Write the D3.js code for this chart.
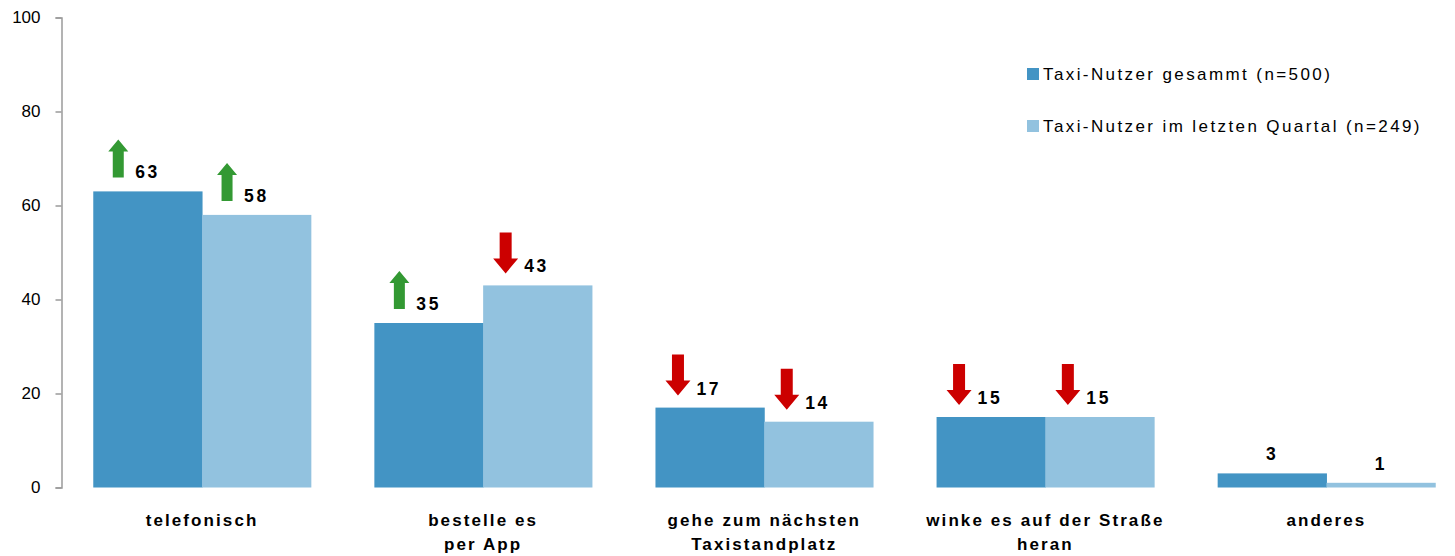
<!DOCTYPE html>
<html>
<head>
<meta charset="utf-8">
<script src="https://cdnjs.cloudflare.com/ajax/libs/d3/7.8.5/d3.min.js"></script>
<style>
  body { margin: 0; background: #fff; }
  svg text { font-family: "Liberation Sans", Arial, sans-serif; fill: #000; }
  .tick text { font-size: 17px; }
  .cat { font-size: 17px; font-weight: bold; letter-spacing: 2.1px; }
  .val { font-size: 17.5px; font-weight: bold; letter-spacing: 2.6px; }
  .leg { font-size: 17px; letter-spacing: 2.4px; }
</style>
</head>
<body>
<div class="chart"></div>
<script>
// data
var categories = [
  ["telefonisch"],
  ["bestelle es", "per App"],
  ["gehe zum nächsten", "Taxistandplatz"],
  ["winke es auf der Straße", "heran"],
  ["anderes"]
];
var seriesNames = ["Taxi-Nutzer gesammt (n=500)", "Taxi-Nutzer im letzten Quartal (n=249)"];
var gesamt = [63, 35, 17, 15, 3];
var quartal = [58, 43, 14, 15, 1];
// trend arrows shown next to each value ("up", "down" or none)
var trendGesamt = ["up", "up", "down", "down", null];
var trendQuartal = ["up", "down", "down", "down", null];
var yTicks = [0, 20, 40, 60, 80, 100];

var colors = ["#4394c4", "#92c2df"];

var svgWidth = 1455, svgHeight = 556;
var margin = { top: 17.5, right: -12, bottom: 68.5, left: 61.5 };
var width = svgWidth - margin.left - margin.right;
var height = svgHeight - margin.top - margin.bottom;

var svg = d3.select(".chart").append("svg")
  .attr("width", svgWidth)
  .attr("height", svgHeight);

var chartGroup = svg.append("g")
  .attr("transform", `translate(${margin.left}, ${margin.top})`);

var idx = d3.range(categories.length);

var x0 = d3.scaleBand()
  .domain(idx)
  .range([0, width])
  .paddingInner(0.226)
  .paddingOuter(0.113);

var x1 = d3.scaleBand()
  .domain([0, 1])
  .range([0, x0.bandwidth()]);

var y = d3.scaleLinear()
  .domain([0, 100])
  .range([height, 0]);

// y axis
var yAxis = chartGroup.append("g")
  .call(d3.axisLeft(y).tickValues(yTicks).tickSize(6).tickPadding(15).tickSizeOuter(6));
yAxis.selectAll("path, line").attr("stroke", "#9a9a9a").attr("stroke-width", 1.5);
yAxis.selectAll("text").attr("fill", "#111");

// rows: one per bar
var rows = [];
idx.forEach(function(i) {
  rows.push({ cat: i, s: 0, v: gesamt[i], t: trendGesamt[i] });
  rows.push({ cat: i, s: 1, v: quartal[i], t: trendQuartal[i] });
});

chartGroup.selectAll("rect.bar")
  .data(rows)
  .enter()
  .append("rect")
  .attr("class", "bar")
  .attr("x", d => x0(d.cat) + x1(d.s))
  .attr("y", d => y(d.v))
  .attr("width", x1.bandwidth() + 0.5)
  .attr("height", d => y(0) - y(d.v))
  .attr("fill", d => colors[d.s]);

// arrow shapes (relative to left edge / bar top)
function upArrow() {
  // 20 wide, 38 tall
  return "M10,0 L20,12 L15.5,12 L15.5,38 L4.5,38 L4.5,12 L0,12 Z";
}
function downArrow() {
  // 25 wide, 41 tall
  return "M6.5,0 L18.5,0 L18.5,26 L25,26 L12.5,41 L0,26 L6.5,26 Z";
}

var withTrend = rows.filter(d => d.t);

chartGroup.selectAll("path.arrow")
  .data(withTrend)
  .enter()
  .append("path")
  .attr("class", "arrow")
  .attr("d", d => d.t == "up" ? upArrow() : downArrow())
  .attr("fill", d => d.t == "up" ? "#339933" : "#cc0000")
  .attr("transform", function(d) {
    var bx = x0(d.cat) + x1(d.s);
    if (d.t == "up") return `translate(${bx + 15}, ${y(d.v) - 52})`;
    return `translate(${bx + 10}, ${y(d.v) - 53})`;
  });

// value labels
chartGroup.selectAll("text.val")
  .data(rows)
  .enter()
  .append("text")
  .attr("class", "val")
  .attr("x", function(d) {
    var bx = x0(d.cat) + x1(d.s);
    if (!d.t) return bx + x1.bandwidth() / 2;
    return bx + (d.t == "up" ? 42 : 41);
  })
  .attr("y", d => y(d.v) - 13)
  .attr("text-anchor", d => d.t ? "start" : "middle")
  .text(d => d.v);

// category labels
var catLabels = chartGroup.selectAll("text.cat")
  .data(idx)
  .enter()
  .append("text")
  .attr("class", "cat")
  .attr("text-anchor", "middle")
  .attr("transform", d => `translate(${x0(d) + x0.bandwidth() / 2}, ${height + 38})`);

catLabels.selectAll("tspan")
  .data(d => categories[d])
  .enter()
  .append("tspan")
  .attr("x", 0)
  .attr("dy", (d, i) => i == 0 ? 0 : 24)
  .text(d => d);

// legend
var legend = svg.append("g")
  .attr("transform", "translate(1027, 68)");

var legItem = legend.selectAll("g")
  .data(seriesNames)
  .enter()
  .append("g")
  .attr("transform", (d, i) => `translate(0, ${i * 52})`);

legItem.append("rect")
  .attr("width", 12)
  .attr("height", 12)
  .attr("fill", (d, i) => colors[i]);

legItem.append("text")
  .attr("class", "leg")
  .attr("x", 16)
  .attr("y", 12)
  .text(d => d);
</script>
</body>
</html>
